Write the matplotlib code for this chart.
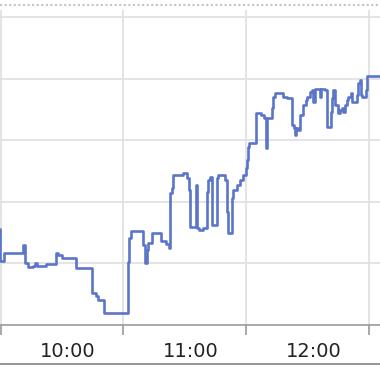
import matplotlib
matplotlib.use("Agg")
import matplotlib.pyplot as plt
from matplotlib.lines import Line2D
from matplotlib.ticker import FixedLocator, NullFormatter

# minutes after 09:00 where the reading changes, and the reading held from there
minutes = [
    25.3, 26.7, 28.7, 38.0, 39.0, 40.4, 42.9, 43.9, 44.8, 49.2,
    54.1, 55.1, 57.1, 63.9, 71.7, 73.7, 74.7, 77.6, 89.3, 89.8,
    90.8, 96.7, 97.7, 98.6, 99.1, 101.1, 105.5, 107.9, 109.4, 109.9,
    110.9, 111.3, 116.2, 118.2, 119.2, 119.7, 122.6, 123.1, 124.1, 126.0,
    128.0, 128.5, 129.4, 130.4, 132.9, 133.4, 136.8, 137.8, 138.2, 140.2,
    140.7, 142.6, 144.1, 145.6, 147.0, 147.5, 148.0, 148.5, 151.9, 154.4,
    155.8, 156.8, 157.3, 159.8, 160.2, 161.2, 165.1, 167.1, 169.5, 170.5,
    171.0, 171.5, 172.5, 173.4, 174.9, 176.4, 176.9, 178.3, 179.3, 179.8,
    180.8, 183.2, 183.7, 185.7, 186.7, 188.6, 189.1, 189.6, 190.6, 192.0,
    193.0, 194.0, 194.5, 195.5, 196.4, 196.9, 198.4, 198.9, 201.3, 201.8,
    202.8, 203.3, 203.8, 205.7, 206.2, 213.5,
]
values = [
    111.2, 100.8, 103.4, 106.0, 100.1, 98.8, 99.2, 100.1, 99.2, 99.8,
    103.4, 102.7, 101.8, 98.5, 90.4, 89.4, 88.1, 83.9, 100.5, 108.2,
    110.5, 106.0, 100.1, 104.4, 106.6, 109.9, 107.3, 106.3, 105.0, 122.9,
    124.5, 128.7, 129.4, 127.7, 123.8, 111.8, 125.5, 111.5, 110.8, 111.5,
    123.2, 127.1, 128.1, 112.5, 127.7, 128.7, 127.1, 116.7, 109.9, 121.2,
    123.8, 125.5, 127.1, 128.7, 131.0, 133.6, 137.8, 139.1, 148.8, 148.2,
    147.2, 137.5, 147.2, 150.5, 154.0, 155.3, 154.0, 153.7, 144.9, 144.0,
    141.7, 144.0, 143.3, 148.2, 151.4, 153.1, 154.0, 155.7, 156.3, 152.4,
    156.6, 154.0, 156.6, 156.3, 144.3, 149.2, 153.7, 156.3, 151.4, 148.8,
    149.8, 150.5, 149.2, 151.4, 153.1, 154.0, 155.3, 152.4, 154.7, 158.6,
    159.6, 154.7, 154.0, 156.3, 160.9, 160.9,
]

hour_ticks = [60, 120, 180]
hour_labels = ["10:00", "11:00", "12:00"]
grid_x = [27, 87, 147, 207]
grid_y = [100, 120, 140, 160, 180]

fig = plt.figure(figsize=(3.8, 3.72), dpi=100)
ax = fig.add_axes([0, 47 / 372, 1, 315 / 372])

ax.step(minutes, values, where="post", color="#5b76c9", lw=1.9, zorder=3)

ax.set_xlim(26.75, 212.6)
ax.set_ylim(80, 182.3)

for s in ["left", "right", "top"]:
    ax.spines[s].set_visible(False)
ax.spines["bottom"].set_color("#9a9a9a")
ax.spines["bottom"].set_linewidth(1.2)

ax.set_xticks(hour_ticks)
ax.set_xticklabels(hour_labels)
ax.xaxis.set_minor_locator(FixedLocator(grid_x))
ax.xaxis.set_minor_formatter(NullFormatter())
ax.tick_params(axis="x", which="major", length=0, pad=12.5, labelsize=14, labelcolor="#222222")
ax.tick_params(axis="x", which="minor", length=7.5, width=1.2, color="#9a9a9a", direction="out")
ax.set_yticks(grid_y)
ax.tick_params(axis="y", length=0, labelleft=False)

ax.grid(False)
ax.grid(True, axis="x", which="minor", color="#e2e2e2", lw=1.3)
ax.grid(True, axis="y", which="major", color="#e2e2e2", lw=1.3)
ax.set_axisbelow(True)

# dotted border on top and plain line at the bottom
fig.add_artist(Line2D([0, 1], [1 - 5 / 372] * 2, transform=fig.transFigure,
                      color="#c4c4c4", lw=1.5, linestyle=(0, (1, 1.2))))
fig.add_artist(Line2D([0, 1], [1 - 364 / 372] * 2, transform=fig.transFigure,
                      color="#8c8c8c", lw=1.3))

fig.savefig("out.png", dpi=100)
